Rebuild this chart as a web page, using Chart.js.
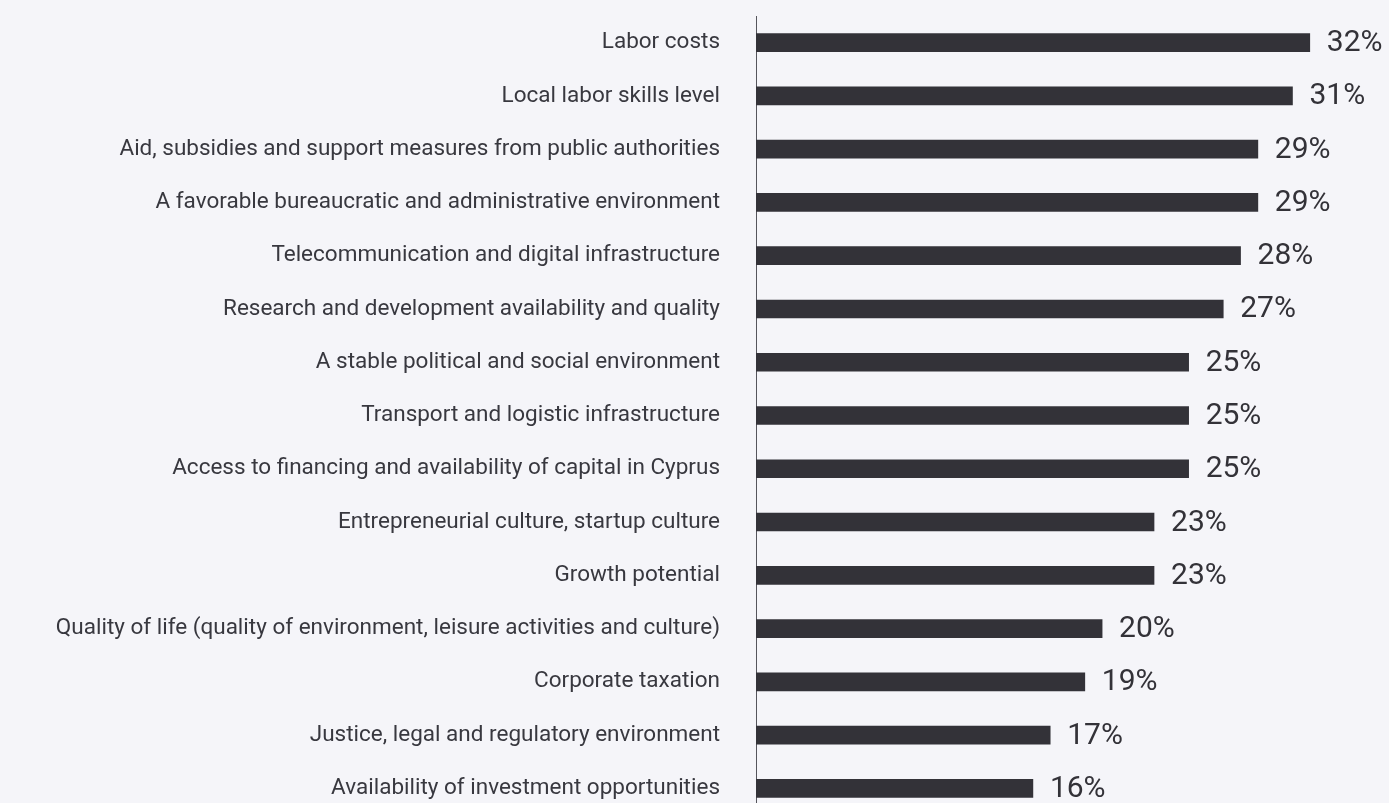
<!DOCTYPE html>
<html>
<head>
<meta charset="utf-8">
<script src="https://cdn.jsdelivr.net/npm/chart.js@4"></script>
<style>
  html, body { margin: 0; padding: 0; background: #f5f5f9; overflow: hidden; }
  #wrap { position: relative; width: 1389px; height: 815px; }
</style>
</head>
<body>
<div id="wrap"><canvas id="factorsChart"></canvas></div>
<script>
// Factors, top to bottom
const factors = [
  "Labor costs",
  "Local labor skills level",
  "Aid, subsidies and support measures from public authorities",
  "A favorable bureaucratic and administrative environment",
  "Telecommunication and digital infrastructure",
  "Research and development availability and quality",
  "A stable political and social environment",
  "Transport and logistic infrastructure",
  "Access to financing and availability of capital in Cyprus",
  "Entrepreneurial culture, startup culture",
  "Growth potential",
  "Quality of life (quality of environment, leisure activities and culture)",
  "Corporate taxation",
  "Justice, legal and regulatory environment",
  "Availability of investment opportunities"
];
const shares = [32, 31, 29, 29, 28, 27, 25, 25, 25, 23, 23, 20, 19, 17, 16];

const barColor = "#333238";
const textColor = "#38383f";

// Percent labels to the right of each bar
const valueLabels = {
  id: "valueLabels",
  afterDatasetsDraw(chart) {
    const ctx = chart.ctx;
    const meta = chart.getDatasetMeta(0);
    ctx.save();
    ctx.font = "30px Roboto";
    ctx.fillStyle = "#333238";
    ctx.textAlign = "left";
    ctx.textBaseline = "middle";
    meta.data.forEach((bar, i) => {
      ctx.fillText(shares[i] + "%", bar.x + 17, bar.y + 1);
    });
    ctx.restore();
  }
};

new Chart(document.getElementById("factorsChart"), {
  type: "bar",
  data: {
    labels: factors,
    datasets: [
      {
        data: shares,
        backgroundColor: barColor,
        barThickness: 18
      }
    ]
  },
  options: {
    indexAxis: "y",
    responsive: true,
    maintainAspectRatio: false,
    animation: false,
    layout: {
      padding: { top: 16, right: 10, bottom: 0, left: 0 }
    },
    plugins: {
      legend: { display: false },
      tooltip: { enabled: false }
    },
    scales: {
      x: {
        display: false,
        min: 0,
        max: 36
      },
      y: {
        afterFit(scale) {
          // fixed label column, no extra room above/below the bars
          scale.width = 756;
          scale.paddingTop = 0;
          scale.paddingBottom = 0;
        },
        grid: { display: false, drawTicks: false },
        border: { display: true, color: "#55555c", width: 1 },
        ticks: {
          padding: 36,
          color: textColor,
          font: { family: "Roboto", size: 22.5 }
        }
      }
    }
  },
  plugins: [valueLabels]
});
</script>
</body>
</html>
